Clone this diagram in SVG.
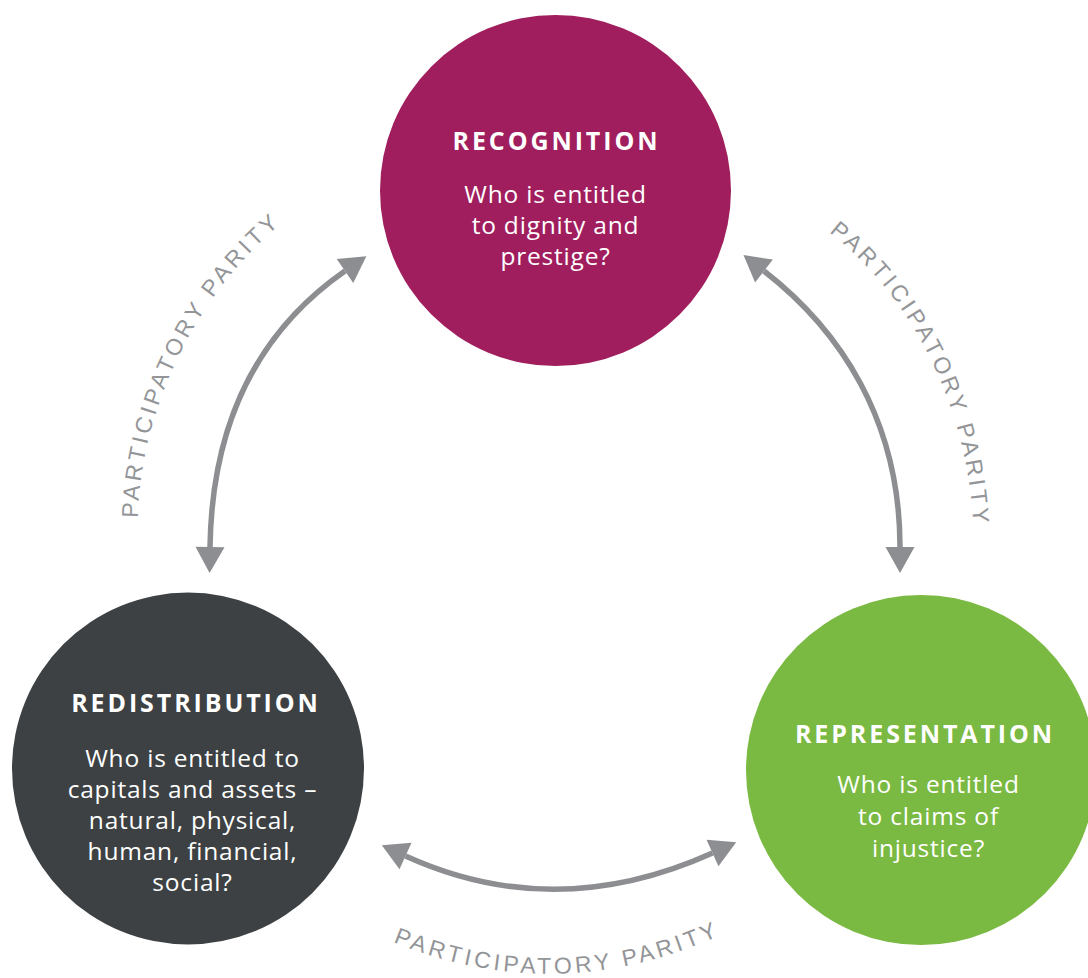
<svg xmlns="http://www.w3.org/2000/svg" xmlns:xlink="http://www.w3.org/1999/xlink" width="1088" height="978" viewBox="0 0 1088 978">
  <style>
    .title { font-family: "Open Sans", "Liberation Sans", sans-serif; font-weight: 700; font-size: 25px; letter-spacing: 2.9px; fill: #ffffff; text-anchor: middle; }
    .body { font-family: "Open Sans", "Liberation Sans", sans-serif; font-weight: 400; font-size: 24.5px; letter-spacing: 0.8px; fill: #ffffff; text-anchor: middle; }
    .label { font-family: "Liberation Sans", "Open Sans", sans-serif; font-weight: 400; font-size: 23px; letter-spacing: 3.6px; fill: #939598; }
    .conn { fill: none; stroke: #8d8e91; stroke-width: 5.5; marker-start: url(#arrow); marker-end: url(#arrow); }
  </style>
  <defs>
    <marker id="arrow" markerUnits="userSpaceOnUse" viewBox="0 -15 28 30" refX="0" refY="0" markerWidth="28" markerHeight="30" orient="auto-start-reverse" overflow="visible">
      <path d="M0,-14.5 L26,0 L0,14.5 Z" fill="#8d8e91"/>
    </marker>
    <path id="pathLeft" d="M138,518 C139,430 182,300 293,214"/>
    <path id="pathRight" d="M829,232 C936,316 974,448 974,545"/>
    <path id="pathBottom" d="M393,942 Q555,1008 716,937"/>
  </defs>
  <rect width="1088" height="978" fill="#ffffff"/>

  <g id="connectors">
    <path class="conn" d="M345,271 C260,330 212,420 210,547"/>
    <path class="conn" d="M764,271 C840,330 900,420 900,547"/>
    <path class="conn" d="M405.5,856 Q555,924 712.5,853"/>
  </g>

  <g id="connector-labels">
    <text class="label"><textPath xlink:href="#pathLeft" href="#pathLeft">PARTICIPATORY PARITY</textPath></text>
    <text class="label"><textPath xlink:href="#pathRight" href="#pathRight">PARTICIPATORY PARITY</textPath></text>
    <text class="label"><textPath xlink:href="#pathBottom" href="#pathBottom">PARTICIPATORY PARITY</textPath></text>
  </g>

  <g id="recognition">
    <circle cx="555.5" cy="190.5" r="175.5" fill="#a01e5d"/>
    <text class="title" x="556.5" y="150">RECOGNITION</text>
    <text class="body" x="555.5" y="203">Who is entitled</text>
    <text class="body" x="555.5" y="234">to dignity and</text>
    <text class="body" x="555.5" y="265">prestige?</text>
  </g>

  <g id="redistribution">
    <circle cx="188" cy="768.5" r="176" fill="#3d4143"/>
    <text class="title" x="196" y="712">REDISTRIBUTION</text>
    <text class="body" x="192.5" y="767">Who is entitled to</text>
    <text class="body" x="192.5" y="798">capitals and assets –</text>
    <text class="body" x="192.5" y="829">natural, physical,</text>
    <text class="body" x="192.5" y="860">human, financial,</text>
    <text class="body" x="192.5" y="891">social?</text>
  </g>

  <g id="representation">
    <circle cx="921" cy="770" r="175" fill="#7ab942"/>
    <text class="title" x="925" y="743">REPRESENTATION</text>
    <text class="body" x="928.5" y="793">Who is entitled</text>
    <text class="body" x="928.5" y="825">to claims of</text>
    <text class="body" x="928.5" y="857">injustice?</text>
  </g>
</svg>
